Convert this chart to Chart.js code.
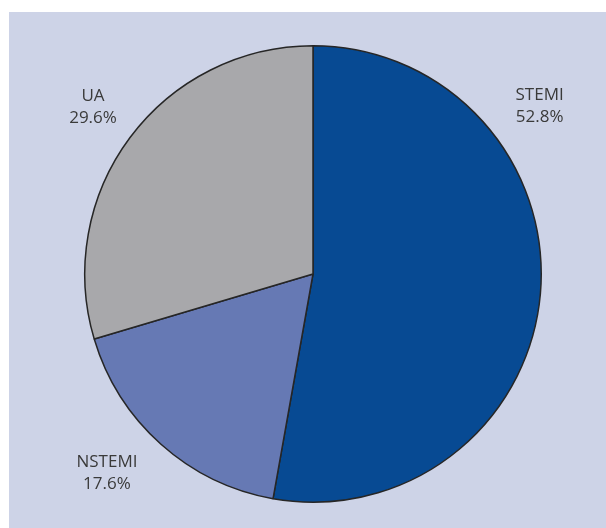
<!DOCTYPE html>
<html>
<head>
<meta charset="utf-8">
<script src="https://cdn.jsdelivr.net/npm/chart.js@4"></script>
<style>
  body { margin: 0; background: #fff; }
  #panel { position: absolute; left: 9px; top: 12px; width: 597px; height: 516px; background: #cdd3e7; }
  #wrap { position: absolute; left: 0; top: 0; width: 606px; height: 528px; }
</style>
</head>
<body>
<div id="panel"></div>
<div id="wrap"><canvas id="pieChart" width="606" height="528"></canvas></div>
<script>
const categories = ['STEMI', 'NSTEMI', 'UA'];
const percentages = [52.8, 17.6, 29.6];
const sliceColors = ['#074a93', '#6679b4', '#a8a8ab'];
// where each label sits: angle (deg) and distance as a fraction of the radius
const labelAngles = [-36.5, 136, -142.8];
const labelDist = [1.235, 1.255, 1.21];

const ctx = document.getElementById('pieChart');

const sliceLabels = {
  id: 'sliceLabels',
  afterDraw(chart) {
    const c = chart.ctx;
    const arc = chart.getDatasetMeta(0).data[0];
    const cx = arc.x, cy = arc.y, r = arc.outerRadius;
    c.save();
    c.fillStyle = '#3a3a3a';
    c.font = '17px "Open Sans", "Noto Sans", sans-serif';
    c.textAlign = 'center';
    c.textBaseline = 'middle';
    categories.forEach((name, i) => {
      const a = labelAngles[i] * Math.PI / 180;
      const x = cx + Math.cos(a) * r * labelDist[i];
      const y = cy + Math.sin(a) * r * labelDist[i];
      c.fillText(name, x, y - 11);
      c.fillText(percentages[i].toFixed(1) + '%', x, y + 11);
    });
    c.restore();
  }
};

new Chart(ctx, {
  type: 'pie',
  data: {
    labels: categories,
    datasets: [{
      data: percentages,
      backgroundColor: sliceColors,
      borderColor: '#262626',
      borderWidth: 1.5
    }]
  },
  options: {
    responsive: false,
    animation: false,
    layout: { padding: { left: 84, right: 64, top: 45, bottom: 25 } },
    plugins: {
      legend: { display: false },
      tooltip: { enabled: false }
    }
  },
  plugins: [sliceLabels]
});
</script>
</body>
</html>
